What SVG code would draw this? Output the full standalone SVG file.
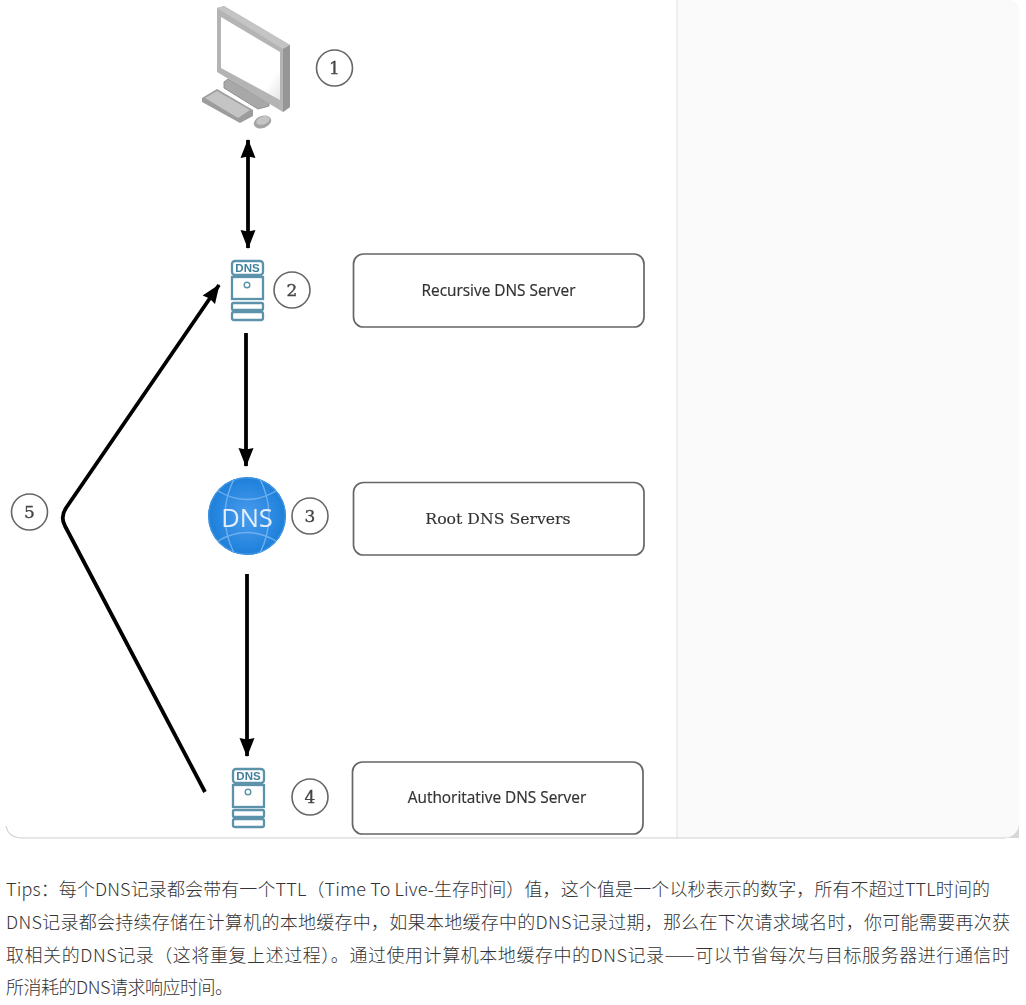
<svg xmlns="http://www.w3.org/2000/svg" width="1026" height="1005" viewBox="0 0 1026 1005">
<defs>
<style>
.cn{font-family:"Noto Sans CJK SC","Liberation Sans",sans-serif;font-size:18px;font-weight:300;fill:#333}
.box{fill:#fff;stroke:#666;stroke-width:1.7}
.num{fill:#fff;stroke:#666;stroke-width:1.6}
.numt{font-family:"DejaVu Serif",serif;font-size:17px;fill:#444;stroke:#444;stroke-width:.35;text-anchor:middle}
.lab{font-family:"Open Sans","DejaVu Sans",sans-serif;font-size:15.400px;font-weight:500;fill:#333;stroke:#333;stroke-width:.2;text-anchor:middle}
.labs{font-family:"DejaVu Serif",serif;font-size:15.700px;font-weight:500;fill:#333;stroke:#333;stroke-width:.15;text-anchor:middle}
.conn{fill:none;stroke:#000;stroke-width:3.800;stroke-linejoin:round}
.sv{fill:#fff;stroke:#5b93ab;stroke-width:2.300}
.svt{font-family:"Liberation Sans",sans-serif;font-weight:bold;font-size:11.500px;fill:#3f7f9b;text-anchor:middle}
.gl{fill:none;stroke:#6fb0ec;stroke-width:1.400}
</style>
<marker id="ah" markerUnits="userSpaceOnUse" markerWidth="19" markerHeight="16" refX="18" refY="8" orient="auto-start-reverse" viewBox="0 0 19 16"><path d="M0 0.500L19 8L0 15.500L1.500 8Z" fill="#000"/></marker>
<radialGradient id="glb" cx="50%" cy="50%" r="50%"><stop offset="0" stop-color="#4a9cec"/><stop offset="0.85" stop-color="#2484de"/><stop offset="1" stop-color="#1f7ed2"/></radialGradient>
<linearGradient id="scr" x1="0" y1="0" x2="1" y2="1"><stop offset="0" stop-color="#fff"/><stop offset="0.8" stop-color="#fff"/><stop offset="1" stop-color="#e6e6e6"/></linearGradient>
<filter id="soft" x="-5%" y="-5%" width="110%" height="110%"><feGaussianBlur stdDeviation="0.550"/></filter>
</defs>
<rect width="1026" height="1005" fill="#fff"/>
<g id="frame">
<path d="M677 0H1008Q1019 0 1019 11V818Q1019 838 999 838H677Z" fill="#fafafa"/>
<path d="M1004 838Q1019 836 1019 822V838Z" fill="#d8d8d8"/>
<path d="M677 0V838" stroke="#e8e8e8" stroke-width="1.300"/>
<path d="M6 826Q8 837 20 838H1006" fill="none" stroke="#cfcfcf" stroke-width="1.200"/>
</g>
<g filter="url(#soft)">
<g id="connectors">
<path class="conn" d="M248 140V248" marker-start="url(#ah)" marker-end="url(#ah)"/>
<path class="conn" d="M246 333V466" marker-end="url(#ah)"/>
<path class="conn" d="M247 574V756" marker-end="url(#ah)"/>
<path class="conn" d="M205 792L65 526Q60 517 66 508L219 285" marker-end="url(#ah)"/>
</g>
<g id="computer">
<path d="M224 82L228 79L269 103V106L258 109L224 88Z" fill="#a8a8a8" stroke="#909090" stroke-width="1"/>
<path d="M217 8L224 6L290 45V107L283 112L217 72Z" fill="#b4b4b4"/>
<path d="M217 8L224 6L290 45L283 49Z" fill="#c4c4c4"/>
<path d="M283 49L290 45V107L283 112Z" fill="#969696"/>
<path d="M221 17L280 52V100L221 68Z" fill="url(#scr)"/>
<path d="M202 98L217 89L253 110V116L240 123L202 102Z" fill="#9c9c9c"/>
<path d="M205 98L217 91L250 110L238 118Z" fill="#c4c4c4"/>
<ellipse cx="262.500" cy="122" rx="9" ry="6" transform="rotate(-20 262.500 122)" fill="#a4a4a4"/>
<ellipse cx="263" cy="120.500" rx="7" ry="4" transform="rotate(-20 263 120.500)" fill="#c4c4c4"/>
</g>
<g id="server-2">
<rect class="sv" x="232" y="261" width="31" height="14" rx="3"/>
<rect class="sv" x="232" y="277" width="31" height="22"/>
<rect class="sv" x="232" y="303" width="31" height="7" rx="1.500"/>
<rect class="sv" x="232" y="312" width="31" height="8" rx="2"/>
<circle cx="247" cy="285" r="2.800" fill="none" stroke="#5b93ab" stroke-width="1.400"/>
<text class="svt" x="247.500" y="272">DNS</text>
</g>
<g id="server-4">
<rect class="sv" x="233" y="769" width="31" height="14" rx="3"/>
<rect class="sv" x="233" y="785" width="31" height="22"/>
<rect class="sv" x="233" y="810" width="31" height="7" rx="1.500"/>
<rect class="sv" x="233" y="819" width="31" height="8" rx="2"/>
<circle cx="248" cy="792" r="2.800" fill="none" stroke="#5b93ab" stroke-width="1.400"/>
<text class="svt" x="248.500" y="780">DNS</text>
</g>
<g id="root-dns">
<circle cx="247" cy="516" r="39" fill="url(#glb)"/>
<circle cx="247" cy="516" r="38.200" fill="none" stroke="#3f97e8" stroke-width="1.200"/>
<path class="gl" d="M218 491Q247 508 276 491M218 541Q247 524 276 541M234 479Q216 516 234 553M260 479Q278 516 260 553"/>
<text x="247" y="527" font-family="Open Sans,Noto Sans,sans-serif" font-size="25.500" fill="#e2effb" text-anchor="middle">DNS</text>
</g>
<g id="label-recursive"><rect class="box" x="353.500" y="254" width="290.500" height="73" rx="10"/><text class="lab" x="498.500" y="295.500">Recursive DNS Server</text></g>
<g id="label-root"><rect class="box" x="353.500" y="482.500" width="290.500" height="72.500" rx="10"/><text class="labs" x="498" y="523.500">Root DNS Servers</text></g>
<g id="label-auth"><rect class="box" x="352.500" y="762" width="290.500" height="72" rx="10"/><text class="lab" x="497" y="803">Authoritative DNS Server</text></g>
<g id="n1"><circle class="num" cx="334.500" cy="68" r="18"/><text class="numt" x="334.500" y="74">1</text></g>
<g id="n2"><circle class="num" cx="292" cy="290" r="18"/><text class="numt" x="292" y="296">2</text></g>
<g id="n3"><circle class="num" cx="310" cy="516" r="18"/><text class="numt" x="310" y="522">3</text></g>
<g id="n4"><circle class="num" cx="310" cy="797" r="18"/><text class="numt" x="310" y="803">4</text></g>
<g id="n5"><circle class="num" cx="29.500" cy="512" r="18"/><text class="numt" x="29.500" y="518">5</text></g>
</g>
<g id="tips">
<text class="cn" x="6" y="896" textLength="984" lengthAdjust="spacing">Tips：每个DNS记录都会带有一个TTL（Time To Live-生存时间）值，这个值是一个以秒表示的数字，所有不超过TTL时间的</text>
<text class="cn" x="6" y="929" textLength="1004" lengthAdjust="spacing">DNS记录都会持续存储在计算机的本地缓存中，如果本地缓存中的DNS记录过期，那么在下次请求域名时，你可能需要再次获</text>
<text class="cn" x="6" y="962" textLength="1004" lengthAdjust="spacing">取相关的DNS记录（这将重复上述过程）。通过使用计算机本地缓存中的DNS记录——可以节省每次与目标服务器进行通信时</text>
<text class="cn" x="6" y="994" textLength="227" lengthAdjust="spacing">所消耗的DNS请求响应时间。</text>
</g>
</svg>
